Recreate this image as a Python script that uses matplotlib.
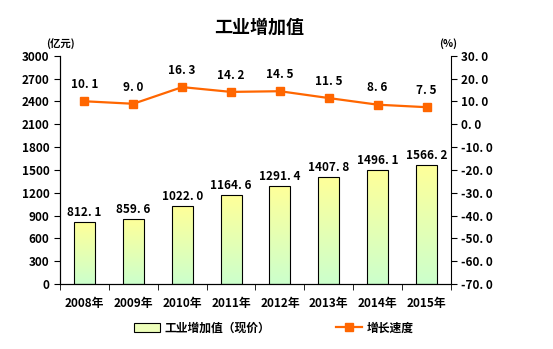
import numpy as np
import matplotlib.pyplot as plt
from matplotlib.patches import Patch
from matplotlib.lines import Line2D
from matplotlib.colors import LinearSegmentedColormap

plt.rcParams['font.family'] = ['Noto Sans CJK SC', 'DejaVu Sans']

years = ['2008年', '2009年', '2010年', '2011年', '2012年', '2013年', '2014年', '2015年']
value = [812.1, 859.6, 1022.0, 1164.6, 1291.4, 1407.8, 1496.1, 1566.2]
growth = [10.1, 9.0, 16.3, 14.2, 14.5, 11.5, 8.6, 7.5]

fig = plt.figure(figsize=(5.53, 3.49), dpi=100)
ax = fig.add_axes([0.1085, 0.186, 0.707, 0.654])
x = np.arange(len(years))

# bars with a vertical green-to-yellow gradient
bars = ax.bar(x, value, width=0.43, facecolor='none', edgecolor='black', linewidth=0.8, zorder=3)
grad = np.linspace(0, 1, 256).reshape(-1, 1)
cmap = LinearSegmentedColormap.from_list('yg', ['#ccffcc', '#ffff99'])
for b in bars:
    bx, by = b.get_x(), b.get_y()
    w, h = b.get_width(), b.get_height()
    im = ax.imshow(grad, cmap=cmap, aspect='auto', origin='lower',
                   extent=[bx, bx + w, by, by + h], zorder=2)
    im.set_clip_path(b)
for xi, v in zip(x, value):
    ax.text(xi, v + 40, f'{v:.1f}'.replace('.', '. '), ha='center', va='bottom',
            fontsize=8.5, fontweight='bold')

ax.set_xlim(-0.5, len(years) - 0.5)
ax.set_ylim(0, 3000)
ax.set_yticks(np.arange(0, 3001, 300))
ax.set_xticks(x)
ax.set_xticklabels(years, fontsize=8.5, fontweight='bold')
ax.set_xticks(np.arange(-0.5, len(years)), minor=True)
ax.tick_params(axis='x', which='major', length=0, pad=9)
ax.tick_params(axis='x', which='minor', length=4, direction='out')
ax.tick_params(axis='y', labelsize=8.5, length=4, direction='out')
for lab in ax.get_yticklabels():
    lab.set_fontweight('bold')
ax.spines['top'].set_visible(False)
ax.spines['right'].set_visible(False)

ax2 = ax.twinx()
ax2.plot(x, growth, color='#ff6600', linewidth=1.6, marker='s', markersize=6, zorder=4)
for xi, g in zip(x, growth):
    ax2.text(xi, g + 4.5, f'{g:.1f}'.replace('.', '. '), ha='center', va='bottom',
             fontsize=8.5, fontweight='bold')
ax2.set_ylim(-70, 30)
ax2.set_yticks(np.arange(-70, 31, 10))
ax2.set_yticklabels([f'{t:.1f}'.replace('.', '. ') for t in np.arange(-70, 31, 10)])
ax2.tick_params(axis='y', labelsize=8.5, length=4, direction='out')
for lab in ax2.get_yticklabels():
    lab.set_fontweight('bold')
ax2.spines['top'].set_visible(False)
ax2.set_xlim(-0.5, len(years) - 0.5)

fig.text(0.468, 0.922, '工业增加值', ha='center', va='center', fontsize=13, fontweight='bold')
fig.text(0.11, 0.875, '(亿元)', ha='center', va='center', fontsize=7.5, fontweight='bold')
fig.text(0.81, 0.875, '(%)', ha='center', va='center', fontsize=7.5, fontweight='bold')

handles = [Patch(facecolor='#eeffbb', edgecolor='black', linewidth=0.8),
           Line2D([], [], color='#ff6600', linewidth=1.6, marker='s', markersize=6)]
fig.legend(handles, ['工业增加值（现价）', '增长速度'], loc='center', bbox_to_anchor=(0.495, 0.06),
           ncol=2, frameon=False, prop={'size': 8.5, 'weight': 'bold'}, columnspacing=5.5,
           handlelength=2.2, handletextpad=0.4)

fig.savefig('out.png', dpi=100)
